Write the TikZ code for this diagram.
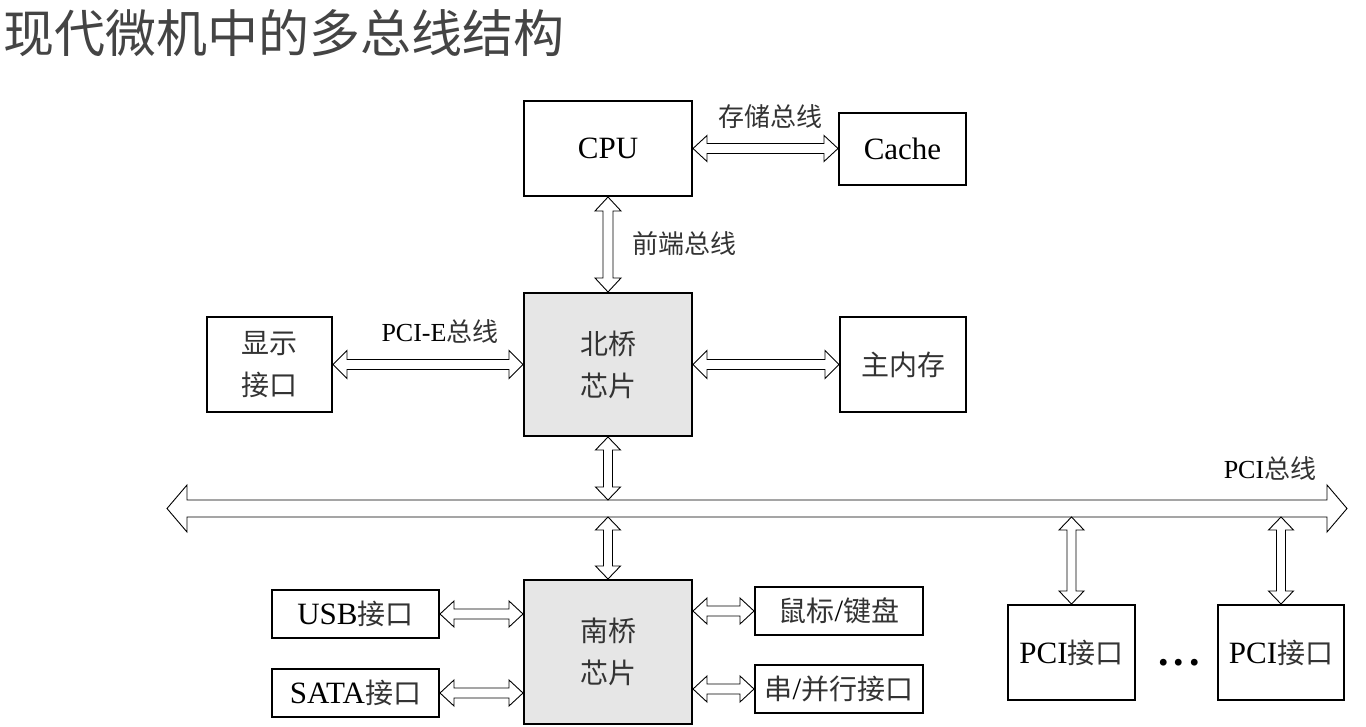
\documentclass[tikz,border=0pt]{standalone}
\usepackage{fontspec}
\setmainfont{Liberation Serif}
\newfontfamily\cjkf{Noto Sans CJK SC}
\usetikzlibrary{calc}
\definecolor{chipgray}{HTML}{E6E6E6}
\definecolor{titlegray}{HTML}{444444}
\definecolor{zhgray}{HTML}{333333}
\newcommand\zh[1]{{\cjkf\color{zhgray}#1}}
\newcommand\zhb[1]{{\fontsize{28}{42}\selectfont\cjkf\color{zhgray}#1}}
% hollow double-headed block arrow: start, end, shaft half-width, head half-width, head length
\newcommand\dblarrow[5]{%
  \coordinate (dA) at (#1);
  \coordinate (dB) at (#2);
  \coordinate (dA1) at ($(dA)!#5!(dB)$);
  \coordinate (dB1) at ($(dB)!#5!(dA)$);
  \draw[dbl] (dA) -- ($(dA1)!#4!90:(dB)$) -- ($(dA1)!#3!90:(dB)$)
    -- ($(dB1)!#3!-90:(dA)$) -- ($(dB1)!#4!-90:(dA)$) -- (dB)
    -- ($(dB1)!#4!90:(dA)$) -- ($(dB1)!#3!90:(dA)$)
    -- ($(dA1)!#3!-90:(dB)$) -- ($(dA1)!#4!-90:(dB)$) -- cycle;}
\begin{document}
\begin{tikzpicture}[x=1pt,y=-1pt,
  box/.style={draw=black, line width=2pt, fill=white, inner sep=0pt, align=center,
    font=\fontsize{31}{42}\selectfont},
  chip/.style={box, fill=chipgray},
  lbl/.style={inner sep=0pt, font=\fontsize{26}{30}\selectfont},
  dbl/.style={draw=black, line width=0.9pt, fill=white, line join=miter}]
\useasboundingbox[fill=white] (0,0) rectangle (1366,727);

% title
\node[anchor=west, inner sep=0pt, text=titlegray, font=\fontsize{51}{60}\selectfont] (title) at (3,33) {\cjkf 现代微机中的多总线结构};

% boxes
\node[box, minimum width=168pt, minimum height=95pt] (cpu) at (608,148.5) {CPU};
\node[box, minimum width=127pt, minimum height=72pt] (cache) at (902.5,149) {Cache};
\node[chip, minimum width=168pt, minimum height=143pt] (nb) at (608,364.5) {\zhb{北桥}\\\zhb{芯片}};
\node[box, minimum width=125pt, minimum height=95pt] (disp) at (269.5,364.5) {\zhb{显示}\\\zhb{接口}};
\node[box, minimum width=126pt, minimum height=95pt] (mem) at (903,364.5) {\zhb{主内存}};
\node[chip, minimum width=168pt, minimum height=144pt] (sb) at (608,652) {\zhb{南桥}\\\zhb{芯片}};
\node[box, minimum width=167pt, minimum height=48pt] (usb) at (355.5,614) {USB\zhb{接口}};
\node[box, minimum width=167pt, minimum height=48pt] (sata) at (355.5,693) {SATA\zhb{接口}};
\node[box, minimum width=168pt, minimum height=48pt] (mouse) at (839,611) {\zhb{鼠标}/\zhb{键盘}};
\node[box, minimum width=168pt, minimum height=48pt] (serial) at (839,689) {\zhb{串}/\zhb{并行接口}};
\node[box, minimum width=127pt, minimum height=95pt] (pci1) at (1071.5,652.5) {PCI\zhb{接口}};
\node[box, minimum width=126pt, minimum height=95pt] (pci2) at (1281,652.5) {PCI\zhb{接口}};
\node[inner sep=0pt, anchor=base, font=\fontsize{42}{42}\selectfont\bfseries] (dots) at (1179,665) {.\hspace{5pt}.\hspace{5pt}.};

% bus coordinates
\coordinate (busL) at (167,508.5);
\coordinate (busR) at (1347,508.5);
\coordinate (busT) at (0,500);
\coordinate (busB) at (0,517);

% connectors
\dblarrow{busL}{busR}{8.5pt}{23.5pt}{20pt}
\dblarrow{cpu.east}{cpu.east -| cache.west}{5pt}{13pt}{14pt}
\dblarrow{cpu.south}{nb.north}{5pt}{13pt}{14pt}
\dblarrow{disp.east}{disp.east -| nb.west}{5pt}{14pt}{14pt}
\dblarrow{nb.east}{nb.east -| mem.west}{5pt}{14pt}{14pt}
\dblarrow{nb.south}{nb.south |- busT}{4.5pt}{12.5pt}{13pt}
\dblarrow{sb.north |- busB}{sb.north}{4.5pt}{12.5pt}{13pt}
\dblarrow{usb.east}{usb.east -| sb.west}{5pt}{13pt}{14pt}
\dblarrow{sata.east}{sata.east -| sb.west}{5pt}{13pt}{14pt}
\dblarrow{sb.east |- mouse.west}{mouse.west}{5pt}{13pt}{14pt}
\dblarrow{sb.east |- serial.west}{serial.west}{5pt}{13pt}{14pt}
\dblarrow{pci1.north |- busB}{pci1.north}{4.5pt}{12.5pt}{13pt}
\dblarrow{pci2.north |- busB}{pci2.north}{4.5pt}{12.5pt}{13pt}

% bus labels
\node[lbl] (lblstore) at (770,117) {\zh{存储总线}};
\node[lbl] (lblfsb) at (684,244) {\zh{前端总线}};
\node[lbl] (lblpcie) at (440,332) {PCI-E\zh{总线}};
\node[lbl] (lblpci) at (1270,469) {PCI\zh{总线}};
\end{tikzpicture}
\end{document}
